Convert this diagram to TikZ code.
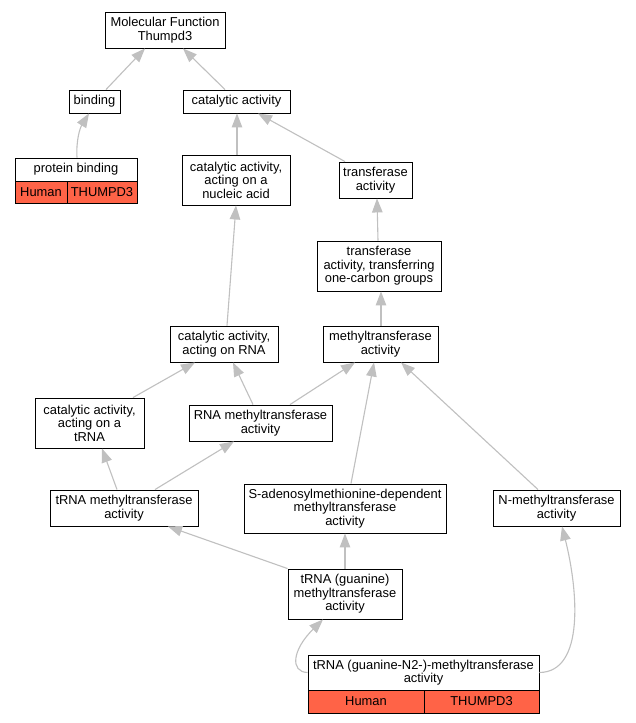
\documentclass[tikz,border=0pt]{standalone}
\usepackage{fontspec}
\setmainfont{Liberation Sans}
\usetikzlibrary{arrows.meta}
\definecolor{edgegray}{RGB}{192,192,192}
\definecolor{tomatofill}{RGB}{255,99,71}
\newcommand\bx[7][white]{\node[box,fill=#1,minimum width={(#5)-(#3)},minimum height={(#6)-(#4)}] (#2) at ({((#3)+(#5))/2},{((#4)+(#6))/2}) {#7};}
\begin{document}
\begin{tikzpicture}[x=1pt,y=-1pt,
  box/.style={draw=black,line width=0.9pt,rectangle,inner sep=0pt,align=center,
    font=\fontsize{12.9}{13.5}\selectfont},
  edge/.style={draw=edgegray,line width=1.1pt,-{Triangle[length=14pt,width=10.5pt,fill=edgegray]}}]
\useasboundingbox[fill=white] (0,0) rectangle (635,723);
\bx{MF}{105}{12}{225}{48}{Molecular Function\\Thumpd3}
\bx{binding}{69}{90}{120}{113}{binding}
\bx{cat}{183}{90}{290}{113}{catalytic activity}
\bx{pb}{15}{158}{137}{181}{protein binding}
\bx[tomatofill]{pbH}{15}{181}{67}{203}{Human}
\bx[tomatofill]{pbT}{67}{181}{137}{203}{THUMPD3}
\bx{nuc}{182}{155}{290}{205}{catalytic activity,\\acting on a\\nucleic acid}
\bx{tra}{339}{162}{412}{198}{transferase\\activity}
\bx{one}{317}{241}{441}{291}{transferase\\activity, transferring\\one-carbon groups}
\bx{rna}{170}{326}{278}{362}{catalytic activity,\\acting on RNA}
\bx{met}{323}{326}{438}{362}{methyltransferase\\activity}
\bx{trna}{35}{398}{144}{448}{catalytic activity,\\acting on a\\tRNA}
\bx{rnam}{189}{405}{332}{441}{RNA methyltransferase\\activity}
\bx{trnam}{50}{490}{198}{526}{tRNA methyltransferase\\activity}
\bx{sam}{244}{484}{446}{533}{S-adenosylmethionine-dependent\\methyltransferase\\activity}
\bx{nmet}{493}{490}{620}{526}{N-methyltransferase\\activity}
\bx{gua}{288}{569}{402}{619}{tRNA (guanine)\\methyltransferase\\activity}
\bx{n2}{308}{655}{539}{690}{tRNA (guanine-N2-)-methyltransferase\\activity}
\bx[tomatofill]{n2H}{308}{690}{424}{713}{Human}
\bx[tomatofill]{n2T}{424}{690}{539}{713}{THUMPD3}

\draw[edge] (binding.north -| 106,0) -- (MF.south -| 145,0);
\draw[edge] (cat.north -| 225,0) -- (MF.south -| 183,0);
\draw[edge] (pb.north -| 77,0) .. controls (76,140) and (80,128) .. (binding.south -| 89,0);
\draw[edge] (nuc.north -| 237,0) -- (cat.south -| 237,0);
\draw[edge] (tra.north -| 345,0) -- (cat.south -| 258,0);
\draw[edge] (one.north -| 378,0) -- (tra.south -| 377,0);
\draw[edge] (met.north -| 381,0) -- (one.south -| 381,0);
\draw[edge] (rna.north -| 227,0) -- (nuc.south -| 236,0);
\draw[edge] (trna.north -| 133,0) -- (rna.south -| 195,0);
\draw[edge] (rnam.north -| 253,0) -- (rna.south -| 233,0);
\draw[edge] (rnam.north -| 290,0) -- (met.south -| 355,0);
\draw[edge] (trnam.north -| 117,0) -- (trna.south -| 102,0);
\draw[edge] (trnam.north -| 155,0) -- (rnam.south -| 234,0);
\draw[edge] (sam.north -| 351,0) -- (met.south -| 374,0);
\draw[edge] (nmet.north -| 538,0) -- (met.south -| 401,0);
\draw[edge] (gua.north west) -- (trnam.south -| 168,0);
\draw[edge] (gua.north -| 345,0) -- (sam.south -| 345,0);
\draw[edge] (n2.west) .. controls (290,672) and (292,650) .. (gua.south -| 323,0);
\draw[edge] (n2.east) .. controls (585,672) and (578,590) .. (nmet.south -| 562,0);
\end{tikzpicture}
\end{document}
